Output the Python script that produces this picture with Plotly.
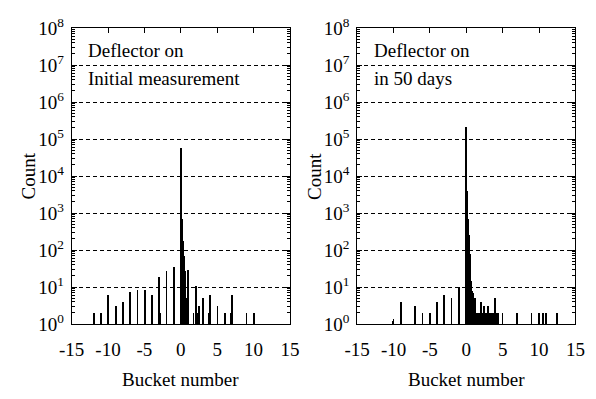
import plotly.graph_objects as go

# ---- data ----
init_bucket = [-12, -11, -10, -9, -8, -7, -6, -5, -4, -3, -2.9, -2, -1, -0.9,
               0, 0.1, 0.2, 0.3, 0.4, 0.5, 0.6, 0.7,
               1, 1.7, 2, 2.2, 2.5, 3, 3.8, 4, 5, 6, 6.8, 7, 9, 10]
init_count = [2, 2, 6, 3, 4, 7.5, 8.5, 8.5, 6, 19, 2, 27, 34, 3,
              57000, 700, 450, 180, 70, 28, 12, 5,
              29, 2, 11, 2, 3, 5, 2, 6, 3, 2, 2, 6, 2, 2]

d50_bucket = [-10, -9, -7, -6, -5, -4, -3, -2, -1,
              0, 0.1, 0.2, 0.3, 0.4, 0.5, 0.6, 0.7, 0.8,
              1, 1.2, 1.4, 1.6, 1.8, 2, 2.2, 2.5, 2.7, 3, 3.3, 3.6, 3.8,
              4, 4.2, 4.4, 5, 7, 9, 10, 10.6, 11, 12.5]
d50_count = [1.2, 4, 3, 2, 2, 4, 6, 5, 10,
             210000, 4000, 2500, 700, 250, 80, 30, 15, 8,
             7, 5, 2, 2, 2, 4, 2, 3, 2, 3, 2, 2, 2,
             5, 2, 2, 2, 2, 2, 2, 2, 2, 2]

x_ticks = [-15, -10, -5, 0, 5, 10, 15]
x_ticktext = ["-15", "-10", "-5", "0", "5", "10", "15"]
y_ticks = [10 ** k for k in range(0, 9)]
y_ticktext = ["10<sup>%d</sup>" % k for k in range(0, 9)]

FONT = "Liberation Serif, Times New Roman, serif"

fig = go.Figure()
fig.add_trace(go.Bar(x=init_bucket, y=init_count, width=0.11,
                     marker=dict(color="black", line=dict(width=0)),
                     xaxis="x", yaxis="y", showlegend=False))
fig.add_trace(go.Bar(x=d50_bucket, y=d50_count, width=0.11,
                     marker=dict(color="black", line=dict(width=0)),
                     xaxis="x2", yaxis="y2", showlegend=False))

W, H = 596, 399
xd1 = [61 / W, 288 / W]
xd2 = [358 / W, 585 / W]
yd = [1 - 331 / H, 1 - 16 / H]

xcommon = dict(range=[-15, 15], tickmode="array", tickvals=x_ticks, ticktext=x_ticktext,
               ticks="inside", ticklen=5, tickcolor="black", showline=True, linecolor="black",
               linewidth=1, mirror="ticks", showgrid=False, zeroline=False,
               tickfont=dict(family=FONT, size=19, color="black"), ticklabelstandoff=8,
               fixedrange=True)
ycommon = dict(type="log", range=[0, 8], tickmode="array", tickvals=y_ticks, ticktext=y_ticktext,
               ticks="inside", ticklen=5, tickcolor="black", showline=True, linecolor="black",
               linewidth=1, mirror="ticks", showgrid=True, gridcolor="black", gridwidth=1,
               griddash="4px,3px", zeroline=False,
               minor=dict(ticks="inside", ticklen=3, tickcolor="black", dtick="D1", showgrid=False),
               tickfont=dict(family=FONT, size=19, color="black"), ticklabelstandoff=3,
               fixedrange=True)

fig.update_layout(
    width=W, height=H,
    margin=dict(l=0, r=0, t=0, b=0),
    paper_bgcolor="white", plot_bgcolor="white",
    bargap=0,
    font=dict(family=FONT, size=19, color="black"),
    xaxis=dict(domain=xd1, anchor="y", **xcommon),
    yaxis=dict(domain=yd, anchor="x", **ycommon),
    xaxis2=dict(domain=xd2, anchor="y2", **xcommon),
    yaxis2=dict(domain=yd, anchor="x2", **ycommon),
)

ann = []
for xc in [(xd1[0] + xd1[1]) / 2, (xd2[0] + xd2[1]) / 2]:
    ann.append(dict(text="Bucket number", x=xc, y=1 - 390 / H, xref="paper", yref="paper",
                    showarrow=False, xanchor="center", yanchor="middle",
                    font=dict(family=FONT, size=19)))
for xc in [16 / W, 313 / W]:
    ann.append(dict(text="Count", x=xc, y=(yd[0] + yd[1]) / 2, xref="paper", yref="paper",
                    showarrow=False, textangle=-90, xanchor="center", yanchor="middle",
                    font=dict(family=FONT, size=19)))
labels = [("Deflector on", 76, 40), ("Initial measurement", 76, 70),
          ("Deflector on", 373, 40), ("in 50 days", 373, 70)]
for t, px, py in labels:
    ann.append(dict(text=t, x=px / W, y=1 - py / H, xref="paper", yref="paper",
                    showarrow=False, xanchor="left", yanchor="middle",
                    font=dict(family=FONT, size=19)))
fig.update_layout(annotations=ann)

fig.write_html("out.html", config={"displayModeBar": False})
